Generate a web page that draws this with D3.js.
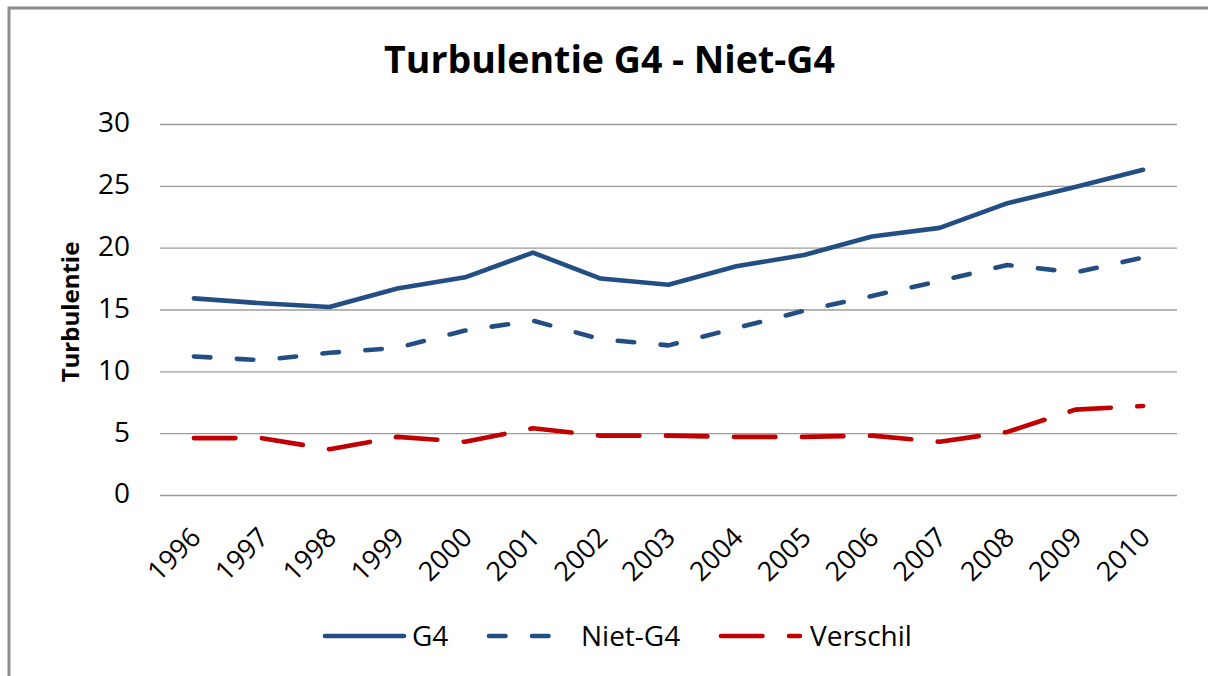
<!DOCTYPE html>
<html>
<head>
<meta charset="utf-8">
<script src="https://cdn.jsdelivr.net/npm/d3@7"></script>
<style>
  html, body { margin: 0; padding: 0; background: #fff; }
  svg { display: block; }
  text { font-family: "Open Sans", "Noto Sans", sans-serif; fill: #000; }
</style>
</head>
<body>
<svg id="chart" width="1208" height="676"></svg>
<script>
// ---- data ----
const years = ["1996","1997","1998","1999","2000","2001","2002","2003","2004","2005","2006","2007","2008","2009","2010"];
const g4 = [15.9, 15.5, 15.2, 16.7, 17.6, 19.6, 17.5, 17.0, 18.5, 19.4, 20.9, 21.6, 23.6, 24.9, 26.3];
const nietG4 = [11.2, 10.9, 11.5, 11.9, 13.3, 14.1, 12.6, 12.1, 13.5, 14.9, 16.1, 17.3, 18.6, 18.0, 19.2];
const verschil = [4.6, 4.6, 3.7, 4.7, 4.3, 5.4, 4.8, 4.8, 4.7, 4.7, 4.8, 4.3, 5.1, 6.9, 7.2];
const yTicks = [0, 5, 10, 15, 20, 25, 30];
const seriesNames = ["G4", "Niet-G4", "Verschil"];
const titleText = "Turbulentie G4 - Niet-G4";
const yAxisTitle = "Turbulentie";

const series = [
  { name: seriesNames[0], values: g4, color: "#234E84", dash: null },
  { name: seriesNames[1], values: nietG4, color: "#234E84", dash: "16.5,26.5" },
  { name: seriesNames[2], values: verschil, color: "#C00000", dash: "41.5,26.5" }
];

const svg = d3.select("#chart");

// frame
svg.append("rect")
  .attr("x", 9).attr("y", 8).attr("width", 1400).attr("height", 900)
  .attr("fill", "none").attr("stroke", "#8e8e8e").attr("stroke-width", 3);

const plot = { left: 160, right: 1177, top: 124, bottom: 495 };

const x = d3.scalePoint().domain(years).range([plot.left, plot.right]).padding(0.5);
const y = d3.scaleLinear().domain([0, 30]).range([plot.bottom, plot.top]);

// gridlines
const yAxis = d3.axisLeft(y).tickValues(yTicks).tickSize(-(plot.right - plot.left)).tickPadding(30);
const gy = svg.append("g").attr("transform", `translate(${plot.left},0)`).call(yAxis);
gy.select(".domain").remove();
gy.selectAll(".tick line").attr("stroke", "#9c9c9c").attr("stroke-width", 1.4);
gy.selectAll(".tick text")
  .attr("font-size", 28).attr("fill", "#000")
  .attr("font-family", "\"Open Sans\", sans-serif")
  .attr("dy", "0.28em");

// x axis labels
const xAxis = d3.axisBottom(x).tickSize(0).tickPadding(0);
const gx = svg.append("g").attr("transform", `translate(0,${plot.bottom})`).call(xAxis);
gx.select(".domain").remove();
gx.selectAll(".tick text")
  .attr("font-size", 27).attr("fill", "#000")
  .attr("font-family", "\"Open Sans\", sans-serif")
  .attr("text-anchor", "end")
  .attr("dy", 0).attr("y", 0)
  .attr("transform", "translate(8,44) rotate(-45)");

// lines
const line = d3.line().x((d, i) => x(years[i])).y(d => y(d));
series.forEach(s => {
  svg.append("path")
    .datum(s.values)
    .attr("d", line)
    .attr("fill", "none")
    .attr("stroke", s.color)
    .attr("stroke-width", 4.6)
    .attr("stroke-linecap", "round")
    .attr("stroke-linejoin", "round")
    .attr("stroke-dasharray", s.dash);
});

// title
const title = svg.append("text")
  .attr("x", 609.5).attr("y", 73)
  .attr("text-anchor", "middle")
  .attr("font-weight", "bold")
  .attr("font-size", 40)
  .text(titleText);
const tl = title.node().getComputedTextLength();
title.attr("font-size", 40 * 451 / tl);

// y axis title
svg.append("text")
  .attr("transform", "translate(79,312) rotate(-90)")
  .attr("text-anchor", "middle")
  .attr("font-weight", "bold")
  .attr("font-size", 24)
  .text(yAxisTitle);

// legend
const legendY = 636;
const legendX = [323, 487, 719];
const sampleLen = 83;
const textGap = [6, 11, 8];
series.forEach((s, i) => {
  svg.append("line")
    .attr("x1", legendX[i] + 2).attr("x2", legendX[i] + sampleLen - 2)
    .attr("y1", legendY).attr("y2", legendY)
    .attr("stroke", s.color).attr("stroke-width", 4.6)
    .attr("stroke-linecap", "round")
    .attr("stroke-dasharray", s.dash);
  svg.append("text")
    .attr("x", legendX[i] + sampleLen + textGap[i])
    .attr("y", legendY)
    .attr("dy", "0.36em")
    .attr("font-size", 28)
    .text(s.name);
});
</script>
</body>
</html>
